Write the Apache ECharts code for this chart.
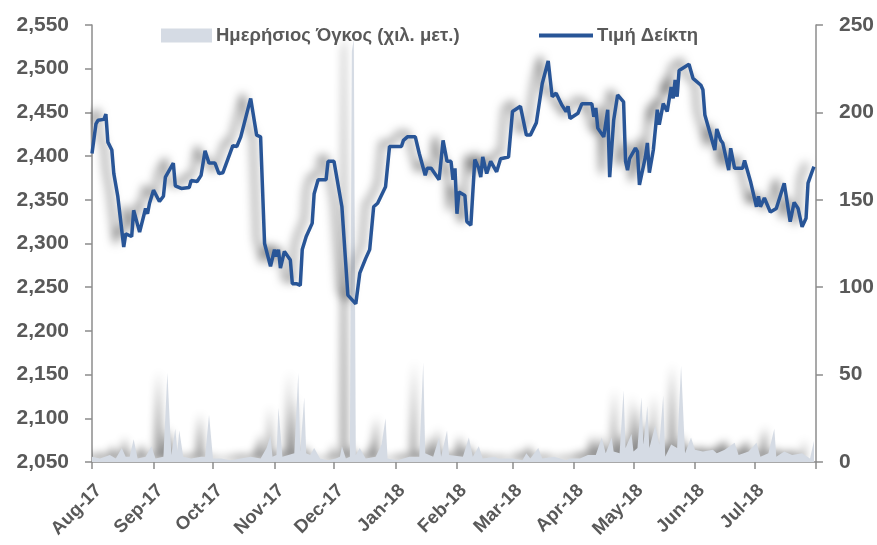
<!DOCTYPE html>
<html><head><meta charset="utf-8">
<script src="https://cdn.jsdelivr.net/npm/echarts@6/dist/echarts.min.js"></script>
<style>html,body{margin:0;padding:0;background:#fff}#c{width:877px;height:545px}</style>
</head><body><div id="c"></div>
<script>
// ---- data ----
const startDate = '2017-08-01';
const endDate = '2018-08-01';
const monthAbbr = ['Jan','Feb','Mar','Apr','May','Jun','Jul','Aug','Sep','Oct','Nov','Dec'];
const volumeName = 'Ημερήσιος Όγκος (χιλ. μετ.)';
const priceName = 'Τιμή Δείκτη';

const priceDates = [
'2017-08-01','2017-08-03','2017-08-04','2017-08-07','2017-08-08','2017-08-09','2017-08-11','2017-08-12','2017-08-14','2017-08-17',
'2017-08-18','2017-08-21','2017-08-22','2017-08-23','2017-08-25','2017-08-28','2017-08-29','2017-08-30','2017-09-01','2017-09-04',
'2017-09-06','2017-09-07','2017-09-11','2017-09-12','2017-09-15','2017-09-19','2017-09-20','2017-09-23','2017-09-25','2017-09-27',
'2017-09-29','2017-10-02','2017-10-04','2017-10-06','2017-10-11','2017-10-13','2017-10-15','2017-10-20','2017-10-23','2017-10-25',
'2017-10-27','2017-10-30','2017-11-01','2017-11-02','2017-11-03','2017-11-04','2017-11-06','2017-11-09','2017-11-10','2017-11-12',
'2017-11-14','2017-11-15','2017-11-16','2017-11-17','2017-11-20','2017-11-21','2017-11-22','2017-11-23','2017-11-27','2017-11-28',
'2017-12-01','2017-12-05','2017-12-08','2017-12-12','2017-12-14','2017-12-17','2017-12-19','2017-12-21','2017-12-23','2017-12-27',
'2017-12-29','2018-01-04','2018-01-05','2018-01-07','2018-01-11','2018-01-13','2018-01-16','2018-01-17','2018-01-19','2018-01-23',
'2018-01-25','2018-01-27','2018-01-29','2018-01-30','2018-01-31','2018-02-01','2018-02-02','2018-02-05','2018-02-06','2018-02-08',
'2018-02-10','2018-02-12','2018-02-13','2018-02-14','2018-02-16','2018-02-18','2018-02-21','2018-02-23','2018-02-27','2018-03-01',
'2018-03-05','2018-03-08','2018-03-10','2018-03-13','2018-03-14','2018-03-16','2018-03-19','2018-03-21','2018-03-23','2018-03-26',
'2018-03-28','2018-03-29','2018-03-30','2018-04-03','2018-04-05','2018-04-10','2018-04-11','2018-04-12','2018-04-13','2018-04-16',
'2018-04-18','2018-04-19','2018-04-21','2018-04-23','2018-04-26','2018-04-27','2018-04-28','2018-04-29','2018-05-02','2018-05-03',
'2018-05-04','2018-05-07','2018-05-08','2018-05-09','2018-05-11','2018-05-13','2018-05-14','2018-05-16','2018-05-18','2018-05-20',
'2018-05-21','2018-05-22','2018-05-23','2018-05-24','2018-05-29','2018-05-31','2018-06-04','2018-06-05','2018-06-06','2018-06-11',
'2018-06-12','2018-06-14','2018-06-15','2018-06-18','2018-06-19','2018-06-21','2018-06-25','2018-06-26','2018-06-29','2018-07-02',
'2018-07-03','2018-07-04','2018-07-06','2018-07-09','2018-07-12','2018-07-16','2018-07-19','2018-07-21','2018-07-23','2018-07-25',
'2018-07-27','2018-07-28','2018-07-30','2018-07-31'
];
const priceValues = [
2403,2437,2441,2442,2448,2416,2407,2380,2354,2296,
2311,2308,2338,2340,2313,2340,2334,2346,2361,2348,
2354,2376,2392,2366,2363,2364,2372,2371,2378,2406,
2392,2392,2380,2381,2412,2411,2422,2466,2424,2422,
2300,2274,2293,2285,2293,2272,2291,2281,2254,2254,
2252,2293,2293,2308,2323,2357,2359,2373,2373,2394,
2394,2342,2241,2231,2266,2283,2293,2342,2346,2365,
2411,2411,2418,2422,2422,2403,2378,2386,2386,2373,
2418,2394,2394,2373,2386,2334,2359,2355,2325,2321,
2396,2386,2376,2399,2380,2394,2382,2397,2399,2451,
2457,2424,2424,2438,2438,2483,2509,2468,2472,2458,
2451,2457,2443,2449,2460,2460,2445,2455,2432,2422,
2453,2376,2441,2470,2462,2394,2384,2397,2409,2405,
2367,2399,2415,2381,2407,2453,2436,2460,2451,2479,
2466,2487,2468,2498,2505,2489,2481,2476,2447,2407,
2431,2418,2415,2384,2409,2386,2386,2395,2371,2342,
2354,2342,2352,2336,2340,2369,2325,2347,2340,2319,
2329,2369,2382,2388
];

const volumeDates = [
'2017-08-01','2017-08-05','2017-08-10','2017-08-13','2017-08-16','2017-08-18','2017-08-20','2017-08-22','2017-08-24','2017-08-28',
'2017-08-31','2017-09-02','2017-09-06','2017-09-08','2017-09-10','2017-09-12','2017-09-13','2017-09-14','2017-09-16','2017-09-20',
'2017-09-25','2017-09-27','2017-09-29','2017-10-01','2017-10-05','2017-10-10','2017-10-15','2017-10-20','2017-10-25','2017-10-28',
'2017-10-30','2017-10-31','2017-11-02','2017-11-03','2017-11-05','2017-11-08','2017-11-11','2017-11-13','2017-11-14','2017-11-16',
'2017-11-17','2017-11-19','2017-11-21','2017-11-24','2017-11-28','2017-12-02','2017-12-04','2017-12-05','2017-12-07','2017-12-09',
'2017-12-10','2017-12-11','2017-12-12','2017-12-14','2017-12-17','2017-12-22','2017-12-25','2017-12-27','2017-12-28','2018-01-02',
'2018-01-08','2018-01-13','2018-01-15','2018-01-16','2018-01-20','2018-01-23','2018-01-24','2018-01-27','2018-01-28','2018-02-04',
'2018-02-07','2018-02-09','2018-02-12','2018-02-14','2018-02-20','2018-02-22','2018-03-01','2018-03-06','2018-03-08','2018-03-10',
'2018-03-14','2018-03-16','2018-03-22','2018-03-28','2018-03-30','2018-04-04','2018-04-08','2018-04-12','2018-04-15','2018-04-17',
'2018-04-20','2018-04-21','2018-04-24','2018-04-26','2018-04-27','2018-04-30','2018-05-01','2018-05-03','2018-05-05','2018-05-06',
'2018-05-08','2018-05-09','2018-05-12','2018-05-14','2018-05-16','2018-05-17','2018-05-20','2018-05-23','2018-05-25','2018-05-27',
'2018-05-30','2018-06-01','2018-06-05','2018-06-10','2018-06-12','2018-06-16','2018-06-21','2018-06-23','2018-06-28','2018-07-02',
'2018-07-04','2018-07-08','2018-07-11','2018-07-12','2018-07-16','2018-07-20','2018-07-25','2018-07-29','2018-07-31'
];
const volumeValues = [
3,2,4,2,8,3,3,13,2,3,
9,2,3,51,4,19,6,18,3,2,
3,3,27,2,2,1,2,3,2,8,
15,3,4,31,3,4,5,51,6,37,
5,4,8,2,1,2,3,9,2,3,
235,242,4,8,2,3,10,25,2,1,
3,3,57,5,3,14,3,18,4,3,
14,3,9,2,3,2,2,1,5,2,
8,2,3,1,2,2,4,4,14,5,
14,6,5,41,8,16,6,8,37,10,
32,8,21,10,38,3,10,8,55,5,
14,7,6,7,5,7,11,4,6,11,
3,5,19,3,6,4,5,2,12
];

// ---- build the daily calendar category axis ----
function fmt(d){
  const m = d.getUTCMonth()+1, day = d.getUTCDate();
  return d.getUTCFullYear()+'-'+(m<10?'0':'')+m+'-'+(day<10?'0':'')+day;
}
const categories = [];
for (let t = Date.parse(startDate+'T00:00:00Z'); t <= Date.parse(endDate+'T00:00:00Z'); t += 86400000) {
  categories.push(fmt(new Date(t)));
}
const catIndex = {}; categories.forEach((c,i)=>catIndex[c]=i);
const pairs = (dates, values) => dates.map((d,i)=>[catIndex[d], values[i]]);
const priceData = pairs(priceDates, priceValues);
const volumeData = pairs(volumeDates, volumeValues);

const FONT = "'Liberation Sans', Arial, sans-serif";
const TXT = '#595959';
const AXIS = '#8c8c8c';

const chart = echarts.init(document.getElementById('c'), null, {renderer:'canvas'});
chart.setOption({
  animation: false,
  backgroundColor: '#ffffff',
  textStyle: {fontFamily: FONT},
  grid: {left: 92, right: 59, top: 25, bottom: 83, containLabel: false},
  legend: [
    {data:[{name: volumeName, icon:'rect'}], left:156, top:21, itemWidth:51, itemHeight:14, itemGap:4,
     textStyle:{color:TXT, fontSize:18.5, fontWeight:'bold', fontFamily:FONT, padding:[0,0,0,-1]}},
    {data:[{name: priceName, icon:'rect', itemStyle:{color:'#285597'}}], left:534, top:21, itemWidth:54, itemHeight:4,
     textStyle:{color:TXT, fontSize:18.5, fontWeight:'bold', fontFamily:FONT, padding:[0,0,0,-1]}}
  ],
  xAxis: {
    type: 'category',
    data: categories,
    boundaryGap: false,
    axisLine: {show:true, lineStyle:{color:AXIS, width:1.5}},
    axisTick: {show:true, length:7, lineStyle:{color:AXIS, width:1.5},
      interval: (i, v) => v.slice(8) === '01'},
    axisLabel: {
      interval: (i, v) => v.slice(8) === '01' && i < categories.length - 1,
      rotate: 45, margin: 19, verticalAlign: 'top',
      color: TXT, fontSize: 18.5, fontWeight: 'bold', fontFamily: FONT,
      formatter: v => monthAbbr[+v.slice(5,7)-1] + '-' + v.slice(2,4)
    },
    splitLine: {show:false}
  },
  yAxis: [
    {type:'value', min:2050, max:2550, interval:50, position:'left',
     axisLine:{show:true, lineStyle:{color:AXIS, width:1.5}},
     axisTick:{show:true, length:7, lineStyle:{color:AXIS, width:1.5}},
     axisLabel:{margin:23, color:TXT, fontSize:21, fontWeight:'bold', fontFamily:FONT,
       formatter: v => v.toLocaleString('en-US')},
     splitLine:{show:false}},
    {type:'value', min:0, max:250, interval:50, position:'right',
     axisLine:{show:true, lineStyle:{color:AXIS, width:1.5}},
     axisTick:{show:true, length:7, lineStyle:{color:AXIS, width:1.5}},
     axisLabel:{margin:23, color:TXT, fontSize:21, fontWeight:'bold', fontFamily:FONT},
     splitLine:{show:false}}
  ],
  series: [
    {name: volumeName, type:'line', yAxisIndex:1, data: volumeData,
     symbol:'none', z:1, color:'#d5dbe4',
     lineStyle:{width:0},
     areaStyle:{color:'#d5dbe4', opacity:1, shadowColor:'rgba(0,0,0,0.45)', shadowBlur:9, shadowOffsetX:-9, shadowOffsetY:-2}},
    {name: priceName, type:'line', yAxisIndex:0, data: priceData,
     symbol:'none', showSymbol:false, z:2, progressive:0, sampling:null, clip:false,
     itemStyle:{color:'#285597'},
     lineStyle:{color:'#285597', width:3.5, shadowColor:'rgba(0,0,0,0.55)', shadowBlur:10, shadowOffsetX:-8, shadowOffsetY:-4}}
  ]
});
</script>
</body></html>
